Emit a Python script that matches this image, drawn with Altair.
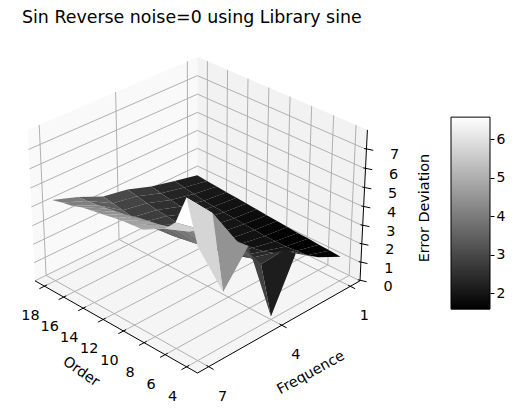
import numpy as np
import altair as alt

TITLE = "Sin Reverse noise=0 using Library sine"
ORDERS = list(range(4, 19))
FREQS = [1, 2, 3, 4, 5, 6, 7]
Z_F1 = [1.33, 1.38, 1.42, 1.47, 1.5, 1.55, 1.6, 1.65, 1.7, 1.75, 1.8, 1.85, 1.9, 1.95, 2.0]
Z_F2 = [1.98, 1.8, 1.75, 1.7, 1.7, 1.7, 1.75, 1.8, 1.85, 1.9, 1.95, 2.0, 2.1, 2.2, 2.3]
Z_F3 = [2.84, 2.77, 2.3, 2.1, 2.0, 1.95, 1.95, 2.0, 2.05, 2.15, 2.2, 2.3, 2.4, 2.5, 2.6]
Z_F4 = [0.16, 2.66, 2.7, 2.5, 2.3, 2.25, 2.3, 2.4, 2.5, 2.6, 2.7, 2.75, 2.85, 2.95, 3.06]
Z_F5 = [4.57, 4.5, 3.9, 3.6, 3.4, 3.3, 3.2, 3.1, 3.05, 3.0, 3.0, 3.0, 3.1, 3.2, 3.3]
Z_F6 = [2.87, 6.6, 5.5, 5.1, 5.0, 4.8, 4.65, 4.55, 4.45, 4.3, 4.2, 4.1, 4.0, 3.95, 3.9]
Z_F7 = [5.87, 8.0, 6.5, 5.9, 5.6, 5.3, 5.25, 5.2, 5.1, 5.0, 4.9, 4.8, 4.6, 4.5, 4.36]
Z_ROWS = [Z_F1, Z_F2, Z_F3, Z_F4, Z_F5, Z_F6, Z_F7]
ORDER_TICKS = [18, 16, 14, 12, 10, 8, 6, 4]
FREQ_TICKS = [1, 4, 7]
Z_TICKS = [0, 1, 2, 3, 4, 5, 6, 7]
CB_TICKS = [2, 3, 4, 5, 6]
VMIN, VMAX = 1.58, 6.58
OMIN, OMAX = 3.0, 19.0
FMIN, FMAX = 0.56, 7.44
ZMIN, ZMAX = 0.0, 8.0
FONT = "DejaVu Sans"

# matplotlib-like perspective camera
asp = np.array([4.0, 4.0, 3.0])
asp = asp * 1.8294640721620434 * 25 / 24 / np.linalg.norm(asp)
el, az = np.radians(30), np.radians(45)
R = asp / 2
E = R + 10 * np.array([np.cos(el) * np.cos(az), np.cos(el) * np.sin(az), np.sin(el)])
w = (E - R) / np.linalg.norm(E - R)
u = np.cross([0, 0, 1.0], w); u /= np.linalg.norm(u)
v = np.cross(w, u)

def raw(o, f, z):
    a = (o - OMIN) / (OMAX - OMIN)
    b = (FMAX - f) / (FMAX - FMIN)
    c = (z - ZMIN) / (ZMAX - ZMIN)
    p = np.array([(1 - b) * asp[0], (1 - a) * asp[1], c * asp[2]]) - E
    d = -np.dot(w, p)
    return np.dot(u, p) / d, np.dot(v, p) / d, d

# fit to the picture's box corners (page pixels)
fx0 = raw(OMIN, FMAX, ZMIN); lx = raw(OMAX, FMAX, ZMIN); rx = raw(OMIN, FMIN, ZMIN); tp = raw(OMAX, FMIN, ZMAX)
SX = (360 - 35) / (rx[0] - lx[0])
TX = 35 - SX * lx[0]
SY = (57 - 373) / (tp[1] - fx0[1])
TY = 373 - SY * fx0[1]

def P(o, f, z):
    x, y, d = raw(o, f, z)
    return [float(SX * x + TX - 8), float(SY * y + TY - 8)]

def feat(kind, coords, **props):
    return {"type": "Feature", "properties": props,
            "geometry": {"type": kind, "coordinates": coords}}

PROJ = {"type": "identity", "scale": 1, "translate": [0, 0]}
W, H = 440, 400

# panes
def pane(corners, colour):
    ring = [P(*c) for c in corners]
    ring.append(ring[0])
    return alt.Chart(alt.Data(values=[feat("Polygon", [ring])])).mark_geoshape(fill=colour, stroke=None).project(**PROJ)

pane_left = pane([(OMAX, FMAX, ZMIN), (OMAX, FMIN, ZMIN), (OMAX, FMIN, ZMAX), (OMAX, FMAX, ZMAX)], "#f9f9f9")
pane_right = pane([(OMIN, FMIN, ZMIN), (OMAX, FMIN, ZMIN), (OMAX, FMIN, ZMAX), (OMIN, FMIN, ZMAX)], "#f2f2f2")
pane_floor = pane([(OMIN, FMAX, ZMIN), (OMAX, FMAX, ZMIN), (OMAX, FMIN, ZMIN), (OMIN, FMIN, ZMIN)], "#f5f5f5")

# grid
grid = []
for o in ORDER_TICKS:
    grid.append(feat("LineString", [P(o, FMAX, ZMIN), P(o, FMIN, ZMIN), P(o, FMIN, ZMAX)]))
for f in FREQ_TICKS:
    grid.append(feat("LineString", [P(OMIN, f, ZMIN), P(OMAX, f, ZMIN), P(OMAX, f, ZMAX)]))
for z in Z_TICKS:
    grid.append(feat("LineString", [P(OMAX, FMAX, z), P(OMAX, FMIN, z), P(OMIN, FMIN, z)]))
grid_layer = alt.Chart(alt.Data(values=grid)).mark_geoshape(filled=False, stroke="#b0b0b0", strokeWidth=1).project(**PROJ)

# axes lines and ticks
axes = [
    feat("LineString", [P(OMAX, FMAX, ZMIN), P(OMIN, FMAX, ZMIN), P(OMIN, FMIN, ZMIN), P(OMIN, FMIN, ZMAX)]),
]
for o in ORDER_TICKS:
    axes.append(feat("LineString", [P(o, FMAX - 0.1, ZMIN), P(o, FMAX + 0.2, ZMIN)]))
for f in FREQ_TICKS:
    axes.append(feat("LineString", [P(OMIN + 0.2, f, ZMIN), P(OMIN - 0.45, f, ZMIN)]))
for z in Z_TICKS:
    axes.append(feat("LineString", [P(OMIN + 0.2, FMIN, z), P(OMIN - 0.4, FMIN - 0.1, z)]))
axes_layer = alt.Chart(alt.Data(values=axes)).mark_geoshape(filled=False, stroke="#000000", strokeWidth=1).project(**PROJ)

# surface faces, painter's order
faces = []
for i in range(len(FREQS) - 1):
    for j in range(len(ORDERS) - 1):
        corners = [(ORDERS[j], FREQS[i], Z_ROWS[i][j]), (ORDERS[j + 1], FREQS[i], Z_ROWS[i][j + 1]),
                   (ORDERS[j + 1], FREQS[i + 1], Z_ROWS[i + 1][j + 1]), (ORDERS[j], FREQS[i + 1], Z_ROWS[i + 1][j])]
        ring = [P(*c) for c in corners]
        ring.append(ring[0])
        depth = float(np.mean([raw(*c)[2] for c in corners]))
        val = float(np.mean([c[2] for c in corners]))
        faces.append((depth, feat("Polygon", [ring], v=val)))
faces.sort(key=lambda t: -t[0])
surface_layer = alt.Chart(alt.Data(values=[t[1] for t in faces])).mark_geoshape(stroke=None).encode(
    color=alt.Color("properties.v:Q", legend=None,
                    scale=alt.Scale(domain=[VMIN, VMAX], range=["#000000", "#ffffff"], clamp=True))
).project(**PROJ)

# text
AXIS_SIZE = 14.4
texts = [{"t": TITLE, "x": 22 - 8, "y": 18 - 8, "a": 0, "s": 17.4, "al": "left"}]
for o in ORDER_TICKS:
    p = P(o, FMAX, ZMIN)
    texts.append({"t": str(o), "x": p[0] - 14, "y": p[1] + 30, "a": 0, "s": AXIS_SIZE, "al": "center"})
for f in FREQ_TICKS:
    p = P(OMIN, f, ZMIN)
    texts.append({"t": str(f), "x": p[0] + 14, "y": p[1] + 30, "a": 0, "s": AXIS_SIZE, "al": "center"})
for z in Z_TICKS:
    p = P(OMIN, FMIN, z)
    texts.append({"t": str(z), "x": p[0] + 28, "y": p[1] + 6, "a": 0, "s": AXIS_SIZE, "al": "center"})
texts.append({"t": "Order", "x": 81 - 8, "y": 372 - 8, "a": 35, "s": AXIS_SIZE, "al": "center"})
texts.append({"t": "Frequence", "x": 311 - 8, "y": 373 - 8, "a": 331, "s": AXIS_SIZE, "al": "center"})
texts.append({"t": "Error Deviation", "x": 425 - 8, "y": 208 - 8, "a": 270, "s": AXIS_SIZE, "al": "center"})

def text_layer(rows, align):
    return alt.Chart(alt.Data(values=rows)).mark_text(font=FONT, align=align, baseline="middle", color="#000000").encode(
        x=alt.X("x:Q", scale=None), y=alt.Y("y:Q", scale=None), text="t:N",
        angle=alt.Angle("a:Q", scale=None), size=alt.Size("s:Q", scale=None))

text_l = text_layer([t for t in texts if t["al"] == "left"], "left")
text_c = text_layer([t for t in texts if t["al"] == "center"], "center")

left = alt.layer(pane_left, pane_right, pane_floor, grid_layer, axes_layer, surface_layer, text_l, text_c).properties(width=W, height=H)

# colour bar: y scale mapped on the panel's full height
PX_PER = 38.4
dom_top = 2 + (293 - 8) / PX_PER
dom_bot = 2 - (408 - 293) / PX_PER
cb_scale = alt.Scale(domain=[dom_bot, dom_top], nice=False, zero=False)
cb_data = alt.Data(values=[{"a": VMIN, "b": VMAX}])
grad = alt.LinearGradient(gradient="linear", x1=0, x2=0, y1=1, y2=0,
                          stops=[alt.GradientStop(color="#000000", offset=0), alt.GradientStop(color="#ffffff", offset=1)])
cb_fill = alt.Chart(cb_data).mark_rect(color=grad, stroke="#000000", strokeWidth=1).encode(
    x=alt.value(3), x2=alt.value(42),
    y=alt.Y("a:Q", scale=cb_scale, axis=alt.Axis(orient="right", values=CB_TICKS, title=None, domain=False, grid=False,
                                                 tickColor="#000000", tickSize=4, labelFontSize=14, labelFont=FONT,
                                                 labelColor="#000000", format="d", labelPadding=2)),
    y2="b:Q")
right = cb_fill.properties(width=42, height=H)

chart = alt.hconcat(left, right, spacing=0).properties(padding=0).configure_view(stroke=None)
chart.save("out.html", embed_options={"renderer": "svg", "actions": False})
